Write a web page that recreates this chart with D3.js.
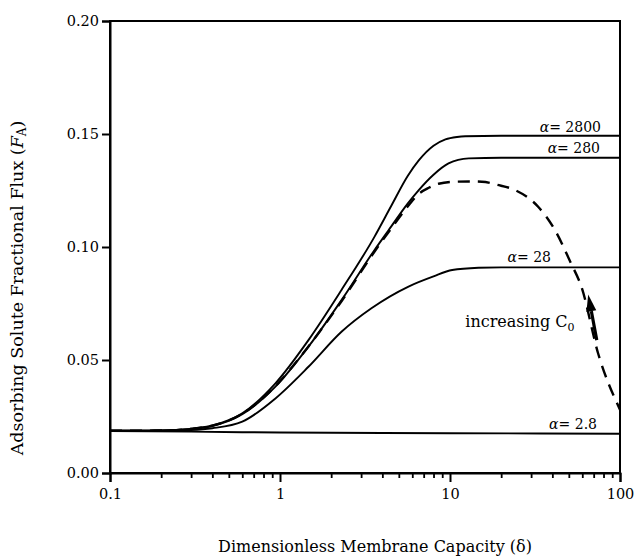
<!DOCTYPE html>
<html>
<head>
<meta charset="utf-8">
<script src="https://cdn.jsdelivr.net/npm/d3@7"></script>
<style>
  html, body { margin: 0; padding: 0; background: #fff; }
  svg { display: block; }
  text { font-family: "DejaVu Serif", "Liberation Serif", serif; fill: #000; }
</style>
</head>
<body>
<svg id="chart" width="637" height="558"></svg>
<script>
// ---- data ----
const xMajorTicks = [0.1, 1, 10, 100];
const xTickLabels = ["0.1", "1", "10", "100"];
const yTicks = [0, 0.05, 0.10, 0.15, 0.20];
const yTickLabels = ["0.00", "0.05", "0.10", "0.15", "0.20"];

const a2800_x = [0.1, 0.2, 0.3, 0.4, 0.6, 0.94, 1.47, 2.3, 3.6, 4.5, 5.65, 6.55, 8, 9.4, 11, 12.3, 20, 100];
const a2800_y = [0.0187, 0.0188, 0.0195, 0.021, 0.0264, 0.0397, 0.0588, 0.081, 0.1046, 0.118, 0.1315, 0.1383, 0.1448, 0.1476, 0.1487, 0.149, 0.1492, 0.1492];

const a280_x = [0.1, 0.2, 0.3, 0.4, 0.6, 0.94, 1.47, 2.3, 3.6, 4.36, 5.65, 6.55, 8, 9.8, 12.9, 20, 100];
const a280_y = [0.0187, 0.0188, 0.0195, 0.0208, 0.026, 0.0382, 0.0559, 0.0765, 0.0987, 0.1075, 0.1193, 0.1252, 0.132, 0.137, 0.1392, 0.1395, 0.1395];

const a28_x = [0.1, 0.2, 0.3, 0.4, 0.6, 0.94, 1.47, 2.3, 3.45, 5.7, 8, 10.3, 14.7, 20, 100];
const a28_y = [0.0187, 0.0187, 0.019, 0.0198, 0.0227, 0.033, 0.047, 0.0625, 0.0729, 0.0825, 0.087, 0.0898, 0.0908, 0.091, 0.091];

const a2_8_x = [0.1, 0.3, 1, 10, 100];
const a2_8_y = [0.0186, 0.0183, 0.0179, 0.0176, 0.0174];

const dash_x = [0.1, 0.2, 0.3, 0.4, 0.6, 0.94, 1.47, 2.3, 3.6, 4.72, 5.65, 6.55, 7.5, 8.57, 10.7, 13, 15.4, 19, 24.1, 33, 41.4, 51.5, 59.3, 74.3, 100];
const dash_y = [0.0187, 0.0188, 0.0196, 0.021, 0.0262, 0.0385, 0.056, 0.076, 0.098, 0.1102, 0.118, 0.1235, 0.1262, 0.128, 0.1289, 0.129, 0.1289, 0.1275, 0.1252, 0.1178, 0.1075, 0.0928, 0.0824, 0.053, 0.028];

const curveLabels = ["2800", "280", "28", "2.8"];
const curveLabelAt = [0.149, 0.1395, 0.091, 0.0174];

const annotText = "increasing C";
const annotSub = "0";
const annotPos = [12.3, 0.0646];            // text anchor (delta, F)
const arrowFrom = [73, 0.0588];
const arrowTo = [65, 0.079];

const xTitle = "Dimensionless Membrane Capacity (δ)";
const yTitle = "Adsorbing Solute Fractional Flux (";

// ---- layout ----
const L = 110, R = 620, T = 21, B = 473;
const svg = d3.select("#chart");
const x = d3.scaleLog().domain([0.1, 100]).range([L, R]);
const y = d3.scaleLinear().domain([0, 0.20]).range([B, T]);

// frame
svg.append("rect").attr("x", L).attr("y", T).attr("width", R - L).attr("height", B - T)
  .attr("fill", "none").attr("stroke", "#000").attr("stroke-width", 2);

// y axis
const yAxis = d3.axisLeft(y).tickValues(yTicks)
  .tickFormat((d, i) => yTickLabels[i]).tickSize(8).tickPadding(3);
const gy = svg.append("g").attr("transform", `translate(${L},0)`).call(yAxis);
gy.select(".domain").attr("stroke-width", 2).attr("stroke", "#000");
gy.selectAll(".tick line").attr("stroke-width", 2).attr("stroke", "#000");
gy.selectAll(".tick text").attr("font-size", 14.5).attr("font-family", "DejaVu Serif").attr("fill", "#000");

// x axis major
const xAxis = d3.axisBottom(x).tickValues(xMajorTicks)
  .tickFormat((d, i) => xTickLabels[i]).tickSize(9).tickPadding(7);
const gx = svg.append("g").attr("transform", `translate(0,${B})`).call(xAxis);
gx.select(".domain").attr("stroke-width", 2).attr("stroke", "#000");
gx.selectAll(".tick line").attr("stroke-width", 2).attr("stroke", "#000");
gx.selectAll(".tick text").attr("font-size", 14.5).attr("font-family", "DejaVu Serif").attr("fill", "#000");

// x axis minor
const minor = [];
for (let dec of [0.1, 1, 10]) for (let k = 2; k <= 9; k++) minor.push(dec * k);
const xAxisMinor = d3.axisBottom(x).tickValues(minor).tickFormat("").tickSize(5);
const gxm = svg.append("g").attr("transform", `translate(0,${B})`).call(xAxisMinor);
gxm.select(".domain").remove();
gxm.selectAll(".tick line").attr("stroke-width", 1.8).attr("stroke", "#000");

// curves
const line = d3.line().x(d => x(d[0])).y(d => y(d[1])).curve(d3.curveMonotoneX);
const zip = (xs, ys) => xs.map((v, i) => [v, ys[i]]);
const solid = [zip(a2800_x, a2800_y), zip(a280_x, a280_y), zip(a28_x, a28_y), zip(a2_8_x, a2_8_y)];
svg.append("g").selectAll("path").data(solid).join("path")
  .attr("d", line).attr("fill", "none").attr("stroke", "#000").attr("stroke-width", 1.9);
svg.append("path").datum(zip(dash_x, dash_y)).attr("d", line)
  .attr("fill", "none").attr("stroke", "#000").attr("stroke-width", 2.4)
  .attr("stroke-dasharray", "12,8");

// curve labels (right-aligned, offset from right frame)
const labRightGap = [19, 20, 69, 23];
const labLift = [4, 5, 5, 5];
curveLabels.forEach((lab, i) => {
  const t = svg.append("text")
    .attr("x", R - labRightGap[i])
    .attr("y", y(curveLabelAt[i]) - labLift[i])
    .attr("text-anchor", "end")
    .attr("font-size", 14);
  t.append("tspan").attr("font-style", "italic").text("α");
  t.append("tspan").text("= " + lab);
});

// annotation text
const at = svg.append("text").attr("x", x(annotPos[0])).attr("y", y(annotPos[1])).attr("font-size", 16);
at.append("tspan").text(annotText);
at.append("tspan").attr("font-size", 11).attr("dy", 4).text(annotSub);

// arrow
const ax0 = x(arrowFrom[0]), ay0 = y(arrowFrom[1]), ax1 = x(arrowTo[0]), ay1 = y(arrowTo[1]);
const ang = Math.atan2(ay1 - ay0, ax1 - ax0);
const headLen = 17, headW = 5;
const bx = ax1 - headLen * Math.cos(ang), by = ay1 - headLen * Math.sin(ang);
svg.append("line").attr("x1", ax0).attr("y1", ay0).attr("x2", bx).attr("y2", by)
  .attr("stroke", "#000").attr("stroke-width", 3.2);
const px = -Math.sin(ang), py = Math.cos(ang);
svg.append("path")
  .attr("d", `M${ax1},${ay1} L${bx + px * headW},${by + py * headW} L${bx - px * headW},${by - py * headW} Z`)
  .attr("fill", "#000");

// axis titles
svg.append("text").attr("x", 375).attr("y", 552).attr("text-anchor", "middle")
  .attr("font-size", 16).text(xTitle);
const yt = svg.append("text").attr("transform", "translate(23,288) rotate(-90)")
  .attr("text-anchor", "middle").attr("font-size", 17.5);
yt.append("tspan").text(yTitle);
yt.append("tspan").attr("font-style", "italic").text("F");
yt.append("tspan").attr("font-size", 12).attr("dy", 3).text("A");
yt.append("tspan").attr("dy", -3).text(")");
</script>
</body>
</html>
